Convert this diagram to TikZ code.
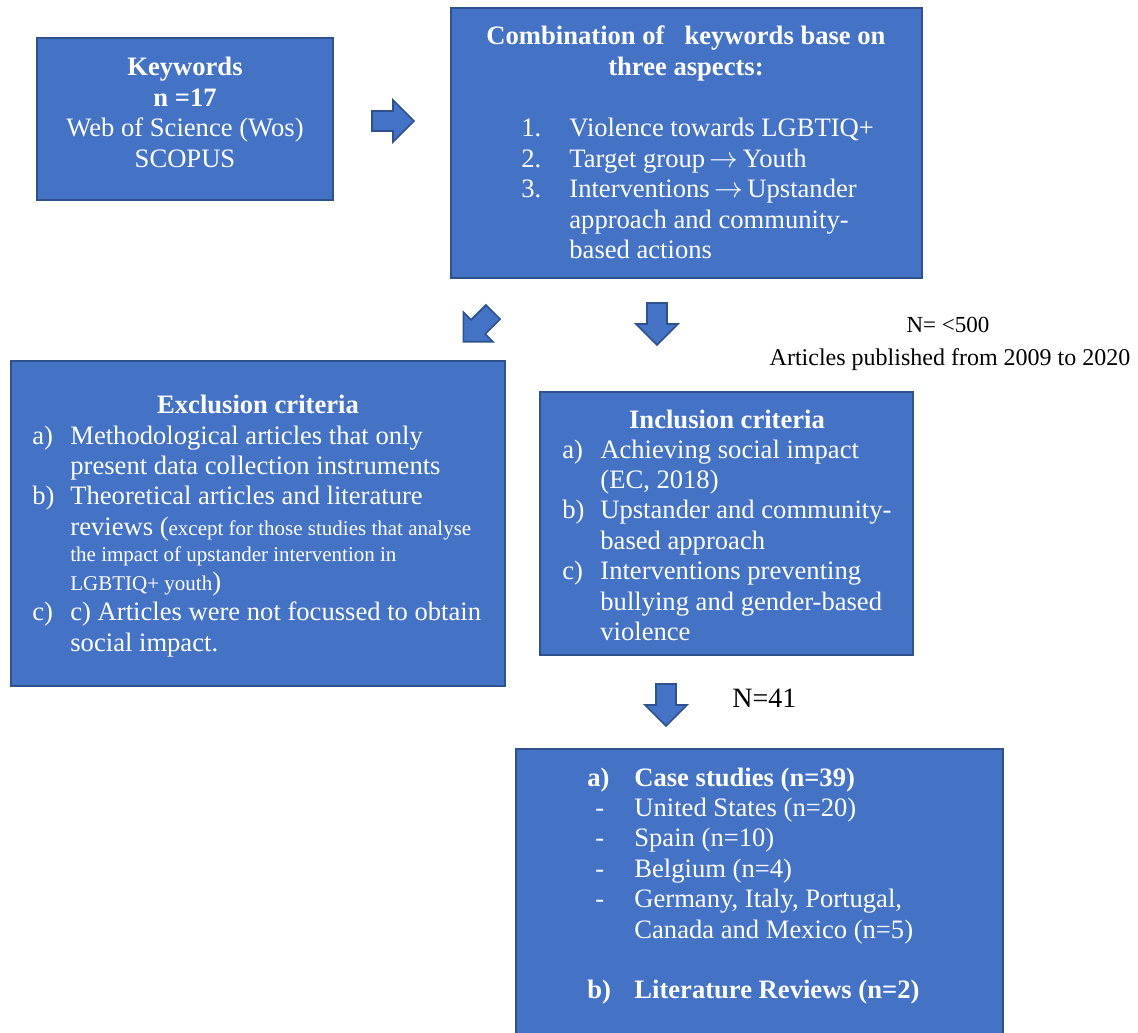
\documentclass[tikz,border=0pt]{standalone}
\usepackage{fontspec}
\setmainfont{Liberation Serif}
\usepackage{xcolor}
\usetikzlibrary{fit}

\definecolor{boxblue}{HTML}{4472C4}
\definecolor{boxline}{HTML}{2F528F}
\newcommand{\bodysize}{\fontsize{13.3}{15.2}\selectfont}
\newcommand{\notesize}{\fontsize{10.5}{12}\selectfont}
\newcommand{\goesto}{\,$\rightarrow$\,}

\begin{document}
\begin{tikzpicture}[x=0.5pt, y=-0.5pt, inner sep=0pt,
    box/.style={draw=boxline, fill=boxblue, line width=1pt, inner sep=0pt},
    txt/.style={text=white, font=\bodysize},
    blockarrow/.pic={\draw[draw=boxline, fill=boxblue, line width=0.8pt, line join=miter]
        (0,-10) -- (21,-10) -- (21,-21) -- (42,0) -- (21,21) -- (21,10) -- (0,10) -- cycle;}]
    \useasboundingbox (0,0) rectangle (1138,1032);

    % boxes
    \node[box, fit={(37,38) (333,200)}] (keywords) {};
    \node[box, fit={(451,8) (922,278)}] (combination) {};
    \node[box, fit={(11,361) (505,686)}] (exclusion) {};
    \node[box, fit={(540,392) (913,655)}] (inclusion) {};
    \node[box, fit={(516,749) (1003,1040)}] (results) {};

    % block arrows
    \pic at (372,121) {blockarrow};
    \pic[rotate=-135] at (493,312) {blockarrow};
    \pic[rotate=-90] at (657,303) {blockarrow};
    \pic[rotate=-90] at (666,684) {blockarrow};

    % texts
    \node[txt, anchor=base] (kwtext) at (185,76) {\begin{tabular}[t]{@{}c@{}}
        \textbf{Keywords}\\ \textbf{n =17}\\ Web of Science (Wos)\\ SCOPUS\end{tabular}};

    \node[txt, anchor=base] (combtitle) at (686,45) {\begin{tabular}[t]{@{}c@{}}
        \textbf{Combination of \ \ keywords base on}\\ \textbf{three aspects:}\end{tabular}};
    \node[txt, anchor=base west] (comblist) at (521,137) {\begin{tabular}[t]{@{}p{24pt}@{}l@{}}
        1. & Violence towards LGBTIQ+\\
        2. & Target group\goesto Youth\\
        3. & Interventions\goesto Upstander\\
           & approach and community-\\
           & based actions\end{tabular}};

    \node[txt, anchor=base] (excltitle) at (258,413) {\textbf{Exclusion criteria}};
    \node[txt, anchor=base west] (excllist) at (32,444) {\begin{tabular}[t]{@{}p{19pt}@{}l@{}}
        a) & Methodological articles that only\\
           & present data collection instruments\\
        b) & Theoretical articles and literature\\
           & reviews ({\notesize except for those studies that analyse}\\[-2.2pt]
           & {\notesize the impact of upstander intervention in}\\[-0.7pt]
           & {\notesize LGBTIQ+ youth})\\
        c) & c) Articles were not focussed to obtain\\
           & social impact.\end{tabular}};

    \node[txt, anchor=base] (incltitle) at (727,428) {\textbf{Inclusion criteria}};
    \node[txt, anchor=base west] (incllist) at (562,458) {\begin{tabular}[t]{@{}p{19pt}@{}l@{}}
        a) & Achieving social impact\\
           & (EC, 2018)\\
        b) & Upstander and community-\\
           & based approach\\
        c) & Interventions preventing\\
           & bullying and gender-based\\
           & violence\end{tabular}};

    \node[txt, anchor=base west] (reslist) at (587,786) {\begin{tabular}[t]{@{}p{23.5pt}@{}l@{}}
        \textbf{a)} & \textbf{Case studies (n=39)}\\
        \hspace{4pt}- & United States (n=20)\\
        \hspace{4pt}- & Spain (n=10)\\
        \hspace{4pt}- & Belgium (n=4)\\
        \hspace{4pt}- & Germany, Italy, Portugal,\\
           & Canada and Mexico (n=5)\\
           & \\
        \textbf{b)} & \textbf{Literature Reviews (n=2)}\end{tabular}};

    \node[anchor=base, font=\fontsize{11.5}{13}\selectfont] (nmax) at (948,332) {N= <500};
    \node[anchor=base, font=\fontsize{12}{14}\selectfont] (period) at (950,365) {Articles published from 2009 to 2020};
    \node[anchor=base west, font=\fontsize{14}{16}\selectfont] (nfinal) at (732,707) {N=41};
\end{tikzpicture}
\end{document}
